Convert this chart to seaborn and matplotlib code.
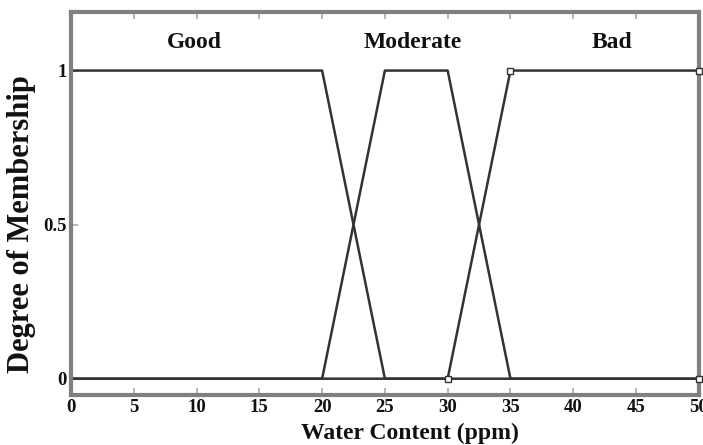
import matplotlib
matplotlib.use("Agg")
import matplotlib.pyplot as plt
import seaborn as sns
import pandas as pd

# Membership functions for water content (ppm)
good_x = [0, 20, 25, 50]
good_y = [1, 1, 0, 0]
moderate_x = [0, 20, 25, 30, 35, 50]
moderate_y = [0, 0, 1, 1, 0, 0]
bad_x = [0, 30, 35, 50]
bad_y = [0, 0, 1, 1]

set_names = ["Good", "Moderate", "Bad"]
set_label_x = [9.8, 27.2, 43.1]
x_ticks = [0, 5, 10, 15, 20, 25, 30, 35, 40, 45, 50]
y_ticks = [0, 0.5, 1]
y_tick_labels = ["0", "0.5", "1"]

sns.set_theme(style="white")
plt.rcParams["font.family"] = ["Liberation Serif", "DejaVu Serif"]
plt.rcParams["font.weight"] = "bold"

df = pd.concat([
    pd.DataFrame({"x": good_x, "y": good_y, "set": "Good"}),
    pd.DataFrame({"x": moderate_x, "y": moderate_y, "set": "Moderate"}),
    pd.DataFrame({"x": bad_x, "y": bad_y, "set": "Bad"}),
])

fig = plt.figure(figsize=(7.03, 4.45), dpi=100)
ax = fig.add_axes([0.101, 0.113, 0.893, 0.86])

line_color = "#333333"
sns.lineplot(data=df, x="x", y="y", hue="set", palette=[line_color] * 3,
             sort=False, estimator=None, legend=False, linewidth=1.8, ax=ax)

# small square end markers
ax.plot([30, 35, 50, 50], [0, 1, 1, 0], linestyle="none", marker="s",
        markersize=4, markerfacecolor="white", markeredgecolor=line_color,
        markeredgewidth=1, clip_on=False, zorder=4)

for name, xpos in zip(set_names, set_label_x):
    ax.text(xpos, 1.09, name, ha="center", va="center", fontsize=17,
            fontweight="bold", color="#111111")

ax.set_xlim(0, 50)
ax.set_ylim(-0.052, 1.19)
ax.set_xticks(x_ticks)
ax.set_yticks(y_ticks)
ax.set_yticklabels(y_tick_labels)
ax.tick_params(axis="both", direction="in", length=5, width=1.2, color="#aaaaaa",
               labelsize=13.5, top=True, bottom=True, left=True, right=False,
               labelcolor="#111111", pad=3)
for lbl in ax.get_xticklabels() + ax.get_yticklabels():
    lbl.set_fontweight("bold")

for side in ax.spines.values():
    side.set_color("#808080")
    side.set_linewidth(3)

ax.set_xlabel("Water Content (ppm)", fontsize=17, fontweight="bold",
              color="#111111")
ax.set_ylabel("Degree of Membership", fontsize=22, fontweight="bold",
              color="#111111")
ax.yaxis.set_label_coords(-0.056, 0.445)
ax.xaxis.set_label_coords(0.54, -0.074)

fig.savefig("out.png", dpi=100)
